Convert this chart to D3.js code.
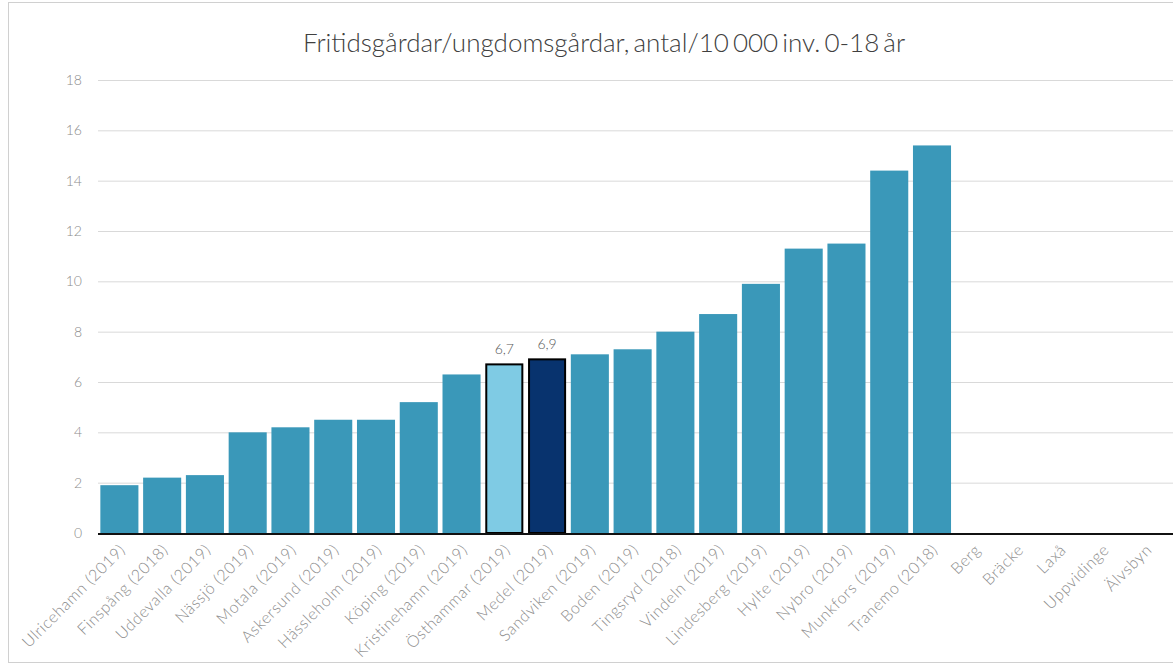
<!DOCTYPE html>
<html><head><meta charset="utf-8">
<script src="https://cdn.jsdelivr.net/npm/d3@7/dist/d3.min.js"></script>
<style>body{margin:0;background:#fff;} svg{display:block;font-family:Lato, sans-serif;}</style>
</head><body><svg id="c" width="1173" height="664"></svg>
<script>
const categories = ["Ulricehamn (2019)","Finspång (2018)","Uddevalla (2019)","Nässjö (2019)","Motala (2019)","Askersund (2019)","Hässleholm (2019)","Köping (2019)","Kristinehamn (2019)","Östhammar (2019)","Medel (2019)","Sandviken (2019)","Boden (2019)","Tingsryd (2018)","Vindeln (2019)","Lindesberg (2019)","Hylte (2019)","Nybro (2019)","Munkfors (2019)","Tranemo (2018)","Berg","Bräcke","Laxå","Uppvidinge","Älvsbyn"];
const values = [1.9,2.2,2.3,4.0,4.2,4.5,4.5,5.2,6.3,6.7,6.9,7.1,7.3,8.0,8.7,9.9,11.3,11.5,14.4,15.4,null,null,null,null,null];
const highlightLight = "Östhammar (2019)";
const highlightDark = "Medel (2019)";
const yTicks = [0,2,4,6,8,10,12,14,16,18];
const title = "Fritidsgårdar/ungdomsgårdar, antal/10 000 inv. 0-18 år";

const svg = d3.select("#c");
svg.append("rect").attr("x",8.5).attr("y",2.5).attr("width",1200).attr("height",660).attr("fill","#fff").attr("stroke","#d0d0d0");

const x = d3.scaleBand().domain(categories.concat(["_"])).range([98,1210]).paddingInner(0.11).paddingOuter(0.055);
const y = d3.scaleLinear().domain([0,18]).range([533,80]);

svg.append("text").attr("x",604).attr("y",52).attr("text-anchor","middle")
  .attr("font-size",26).attr("font-weight",300).attr("word-spacing",-3).attr("fill","#404040").text(title);

// grid
svg.append("g").selectAll("line").data(yTicks.filter(d=>d>0)).join("line")
  .attr("x1",98).attr("x2",1210).attr("y1",d=>y(d)+0.5).attr("y2",d=>y(d)+0.5)
  .attr("stroke","#d9d9d9").attr("stroke-width",1);

// y labels
svg.append("g").selectAll("text").data(yTicks).join("text")
  .attr("x",82).attr("y",d=>y(d)+5).attr("text-anchor","end")
  .attr("font-size",14).attr("font-weight",300).attr("fill","#8c8c8c").text(d=>d);

const data = categories.map((c,i)=>({c,v:values[i]})).filter(d=>d.v!=null);
svg.append("g").selectAll("rect").data(data).join("rect")
  .attr("x",d=>x(d.c)+(d.c===highlightLight||d.c===highlightDark?1:0))
  .attr("width",d=>x.bandwidth()-(d.c===highlightLight||d.c===highlightDark?2:0))
  .attr("y",d=>y(d.v)).attr("height",d=>y(0)-y(d.v))
  .attr("fill",d=>d.c===highlightLight?"#7fcbe4":d.c===highlightDark?"#08336e":"#3a98b9")
  .attr("stroke",d=>(d.c===highlightLight||d.c===highlightDark)?"#000":"none")
  .attr("stroke-width",2);

svg.append("g").selectAll("text").data(data.filter(d=>d.c===highlightLight||d.c===highlightDark)).join("text")
  .attr("x",d=>x(d.c)+x.bandwidth()/2).attr("y",d=>y(d.v)-10).attr("text-anchor","middle")
  .attr("font-size",14).attr("font-weight",300).attr("fill","#595959")
  .text(d=>d3.format(".1f")(d.v).replace(".",","));

// axis line
svg.append("line").attr("x1",98).attr("x2",1210).attr("y1",y(0)+1).attr("y2",y(0)+1).attr("stroke","#111").attr("stroke-width",2);

// x labels
svg.append("g").selectAll("text").data(categories).join("text")
  .attr("transform",d=>`translate(${x(d)+x.bandwidth()/2+3},${547}) rotate(-45)`)
  .attr("text-anchor","end").attr("dy","0.35em")
  .attr("font-size",16).attr("letter-spacing",0.6).attr("font-weight",300).attr("fill","#8c8c8c").text(d=>d);
</script></body></html>
